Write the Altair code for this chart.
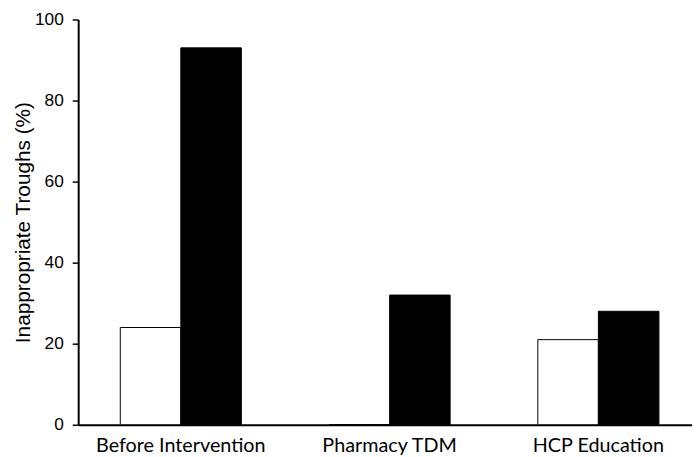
import altair as alt
import pandas as pd

categories = ["Before Intervention", "Pharmacy TDM", "HCP Education"]
series = ["Series 1", "Series 2"]
series1_values = [24, 0, 21]
series2_values = [93, 32, 28]
y_ticks = [0, 20, 40, 60, 80, 100]

rows = []
for c, a, b in zip(categories, series1_values, series2_values):
    rows.append({"category": c, "series": series[0], "value": a})
    rows.append({"category": c, "series": series[1], "value": b})
df = pd.DataFrame(rows)

chart = alt.Chart(df).mark_bar(stroke="black", strokeWidth=1).encode(
    x=alt.X(
        "category:N",
        sort=categories,
        scale=alt.Scale(paddingInner=0.42, paddingOuter=0.18, align=0.56),
        axis=alt.Axis(
            title=None, labelAngle=0, ticks=False, domainColor="black",
            domainWidth=2, labelFont="Lato", labelFontSize=20,
            labelColor="black", labelPadding=11,
        ),
    ),
    xOffset=alt.XOffset("series:N", sort=series),
    y=alt.Y(
        "value:Q",
        scale=alt.Scale(domain=[0, 100], nice=False),
        axis=alt.Axis(
            values=y_ticks, title="Inappropriate Troughs (%)", grid=False,
            domainColor="black", domainWidth=2, tickColor="black",
            tickWidth=1.5, tickSize=6, labelFont="Liberation Sans",
            labelFontSize=17.5, labelColor="black", labelPadding=9,
            titleFont="Liberation Sans", titleFontSize=21,
            titleFontWeight="normal", titleColor="black", titlePadding=1,
        ),
    ),
    color=alt.Color(
        "series:N",
        scale=alt.Scale(domain=series, range=["white", "black"]),
        legend=None,
    ),
).properties(
    width=621,
    height=410,
    autosize=alt.AutoSizeParams(type="none"),
    padding={"left": 71, "top": 9, "right": 0, "bottom": 30},
).configure_view(stroke=None)

chart.save("out.html", embed_options={"renderer": "svg", "actions": False})
